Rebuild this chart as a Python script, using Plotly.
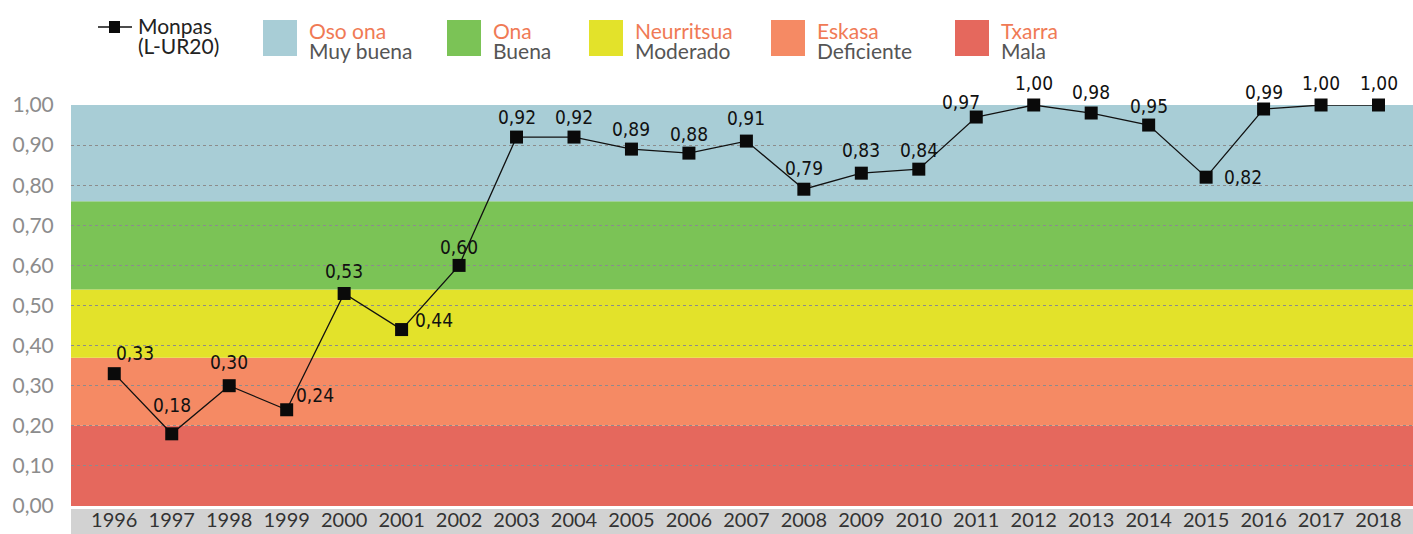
import plotly.graph_objects as go

# ---- data ----
years = list(range(1996, 2019))
values = [0.33, 0.18, 0.30, 0.24, 0.53, 0.44, 0.60, 0.92, 0.92, 0.89, 0.88, 0.91,
          0.79, 0.83, 0.84, 0.97, 1.00, 0.98, 0.95, 0.82, 0.99, 1.00, 1.00]
band_limits = [0.0, 0.20, 0.37, 0.54, 0.76, 1.00]
band_eu = ["Txarra", "Eskasa", "Neurritsua", "Ona", "Oso ona"]
band_es = ["Mala", "Deficiente", "Moderado", "Buena", "Muy buena"]
series_name = "Monpas"
station_code = "(L-UR20)"
y_ticks = [0.0, 0.1, 0.2, 0.3, 0.4, 0.5, 0.6, 0.7, 0.8, 0.9, 1.0]

# ---- styles ----
band_colors = ["#e5685d", "#f58a64", "#e3e22a", "#7bc356", "#a8cdd6"]
label_offsets = [(21, 21), (0, 29), (0, 24), (28, 15), (0, 22), (32, 10), (0, 18),
                 (0, 20), (0, 20), (0, 20), (0, 19), (0, 23), (0, 21), (0, 23),
                 (0, 19), (-15, 15), (0, 22), (0, 21), (0, 19), (37, 0), (0, 17),
                 (0, 22), (0, 22)]
LABEL_FONT = "'Liberation Sans Narrow', 'DejaVu Sans Condensed', sans-serif"

W, H = 1413, 534
ML, MR, MT, MB = 71, 0, 105, 28
pw, ph = W - ML - MR, H - MT - MB


def px_x(p):
    return (p - ML) / pw


def px_y(p):
    return (H - MB - p) / ph


fig = go.Figure()

fig.add_trace(go.Scatter(
    x=years, y=values, mode="lines+markers",
    line=dict(color="#111111", width=1.3),
    marker=dict(symbol="square", size=13, color="#0a0a0a"),
    cliponaxis=False, showlegend=False, hoverinfo="x+y",
))

# quality bands
for i, col in enumerate(band_colors):
    fig.add_shape(type="rect", xref="paper", yref="y", x0=0, x1=1,
                  y0=band_limits[i], y1=band_limits[i + 1],
                  fillcolor=col, line_width=0, layer="below")

# grey band behind x tick labels
fig.add_shape(type="rect", xref="paper", yref="paper", x0=0, x1=1,
              y0=px_y(534), y1=px_y(509), fillcolor="#d2d2d2", line_width=0,
              layer="below")

# data labels
for yr, v, (dx, dy) in zip(years, values, label_offsets):
    fig.add_annotation(x=yr, y=v, text=f"{v:.2f}".replace(".", ","),
                       showarrow=False, xshift=dx, yshift=dy,
                       xanchor="center", yanchor="middle",
                       font=dict(family=LABEL_FONT, size=19, color="#111111"))

# custom legend: series
fig.add_shape(type="line", xref="paper", yref="paper", x0=px_x(98), x1=px_x(132),
              y0=px_y(27), y1=px_y(27), line=dict(color="#111", width=1.3))
fig.add_shape(type="rect", xref="paper", yref="paper", x0=px_x(109), x1=px_x(120),
              y0=px_y(33), y1=px_y(21), fillcolor="#0a0a0a", line_width=0)
fig.add_annotation(xref="paper", yref="paper", x=px_x(136), y=px_y(25),
                   xanchor="left", yanchor="middle",
                   text=series_name, showarrow=False,
                   font=dict(family="Lato", size=21, color="#222"))
fig.add_annotation(xref="paper", yref="paper", x=px_x(136), y=px_y(46),
                   xanchor="left", yanchor="middle",
                   text=station_code, showarrow=False,
                   font=dict(family="Lato", size=21, color="#222"))

# custom legend: bands (from best to worst)
box_x = [263, 447, 589, 771, 955]
for k, i in enumerate(reversed(range(len(band_colors)))):
    bx = box_x[k]
    fig.add_shape(type="rect", xref="paper", yref="paper", x0=px_x(bx), x1=px_x(bx + 34),
                  y0=px_y(56), y1=px_y(20), fillcolor=band_colors[i], line_width=0)
    fig.add_annotation(xref="paper", yref="paper", x=px_x(bx + 44), y=px_y(30),
                       xanchor="left", yanchor="middle", text=band_eu[i], showarrow=False,
                       font=dict(family="Lato", size=21, color="#f07a55"))
    fig.add_annotation(xref="paper", yref="paper", x=px_x(bx + 44), y=px_y(51),
                       xanchor="left", yanchor="middle", text=band_es[i], showarrow=False,
                       font=dict(family="Lato", size=21, color="#555555"))

fig.update_xaxes(
    range=[years[0] - 0.753, years[-1] + 0.6],
    tickvals=years, ticktext=[str(y) for y in years],
    showgrid=False, zeroline=False, showline=False, automargin=False,
    ticks="", tickfont=dict(family="Lato", size=20, color="#333333"),
)
fig.update_yaxes(
    range=[0, 1.0], tickvals=y_ticks, ticktext=[f"{t:.2f}".replace(".", ",") for t in y_ticks],
    showgrid=True, gridcolor="#8c8c8c", griddash="dot", gridwidth=1,
    zeroline=False, showline=False, automargin=False,
    ticks="outside", ticklen=12, tickcolor="rgba(0,0,0,0)",
    tickfont=dict(family="Lato", size=21, color="#8c8c8c"),
)
fig.update_layout(
    width=W, height=H, margin=dict(l=ML, r=MR, t=MT, b=MB, pad=0, autoexpand=False),
    plot_bgcolor="white", paper_bgcolor="white", showlegend=False,
)

fig.write_html("out.html", config={"displayModeBar": False},
               post_script="document.body.style.margin='0';")
